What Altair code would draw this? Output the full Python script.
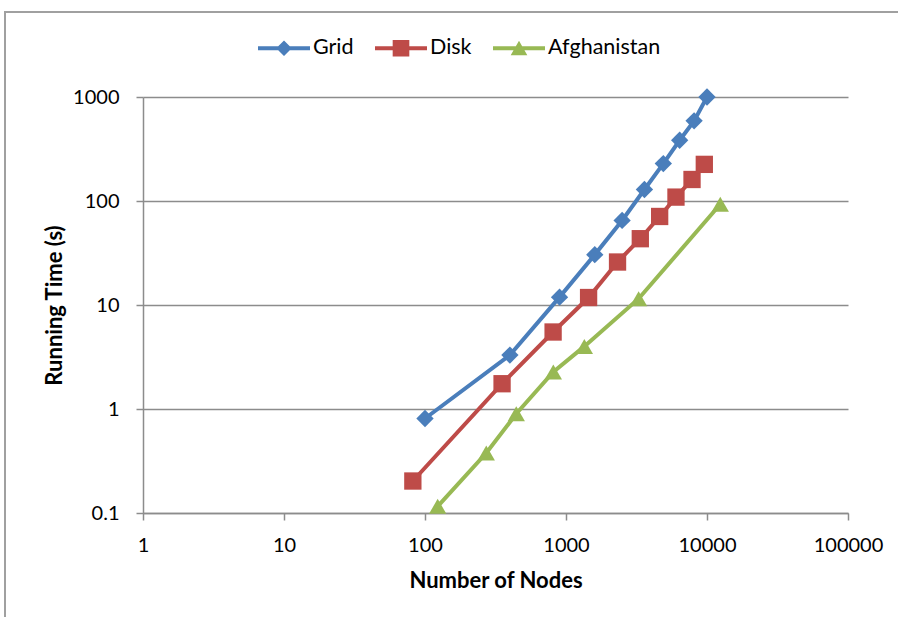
import altair as alt
import pandas as pd

# Series definitions
series_names = ["Grid", "Disk", "Afghanistan"]
series_colors = ["#4A7EBB", "#BE4B48", "#98B954"]
marker_shapes = ["diamond", "square", "triangle-up"]

grid_nodes = [100, 400, 900, 1600, 2500, 3600, 4900, 6400, 8100, 10000]
grid_time = [0.81, 3.3, 11.9, 30.5, 65, 129, 229, 384, 590, 1000]

disk_nodes = [82, 352, 810, 1446, 2320, 3365, 4615, 6025, 7830, 9570]
disk_time = [0.203, 1.75, 5.5, 11.8, 25.9, 43.4, 71, 109, 161, 225]

afg_nodes = [123, 272, 444, 813, 1349, 3273, 12420]
afg_time = [0.116, 0.377, 0.9, 2.27, 4.0, 11.5, 93]

x_ticks = [1, 10, 100, 1000, 10000, 100000]
y_ticks = [0.1, 1, 10, 100, 1000]

# Legend symbols: a short line segment with the series marker on top
legend_paths = [
    "M-1,-0.077L1,-0.077L1,0.077L-1,0.077Z M0,-0.3L0.3,0L0,0.3L-0.3,0Z",
    "M-1,-0.077L1,-0.077L1,0.077L-1,0.077Z M-0.32,-0.32L0.32,-0.32L0.32,0.32L-0.32,0.32Z",
    "M-1,-0.077L1,-0.077L1,0.077L-1,0.077Z M0,-0.29L0.32,0.27L-0.32,0.27Z",
]

rows = []
for name, nodes, times in [
    ("Grid", grid_nodes, grid_time),
    ("Disk", disk_nodes, disk_time),
    ("Afghanistan", afg_nodes, afg_time),
]:
    for i, (n, t) in enumerate(zip(nodes, times)):
        rows.append({"series": name, "nodes": n, "time": t, "order": i})
df = pd.DataFrame(rows)

FONT = "Lato"
GRAY = "#8c8c8c"

x_enc = alt.X(
    "nodes:Q",
    scale=alt.Scale(type="log", domain=[1, 100000], nice=False),
    axis=alt.Axis(
        values=x_ticks, format="d", grid=False,
        domainColor=GRAY, domainWidth=1.5, tickColor=GRAY, tickWidth=1.5, tickSize=7,
        labelFont=FONT, labelFontSize=20, labelColor="#000000", labelPadding=15,
        labelFlush=False, labelOverlap=False,
        title="Number of Nodes", titleFont=FONT, titleFontSize=22, titleFontWeight="bold",
        titleColor="#000000", titleX=352.5, titleY=67.5, titleAlign="center",
        titleBaseline="middle",
    ),
)
y_enc = alt.Y(
    "time:Q",
    scale=alt.Scale(type="log", domain=[0.1, 1000], nice=False),
    axis=alt.Axis(
        values=y_ticks, format="~g", grid=True, gridColor=GRAY, gridWidth=1.5,
        domainColor=GRAY, domainWidth=1.5, tickColor=GRAY, tickWidth=1.5, tickSize=7,
        labelFont=FONT, labelFontSize=20, labelColor="#000000", labelPadding=17,
        labelFlush=False, labelOverlap=False,
        title="Running Time (s)", titleFont=FONT, titleFontSize=22, titleFontWeight="bold",
        titleColor="#000000", titleX=-89, titleY=208, titleAngle=-90,
        titleAlign="center", titleBaseline="middle",
    ),
)

color_scale = alt.Scale(domain=series_names, range=series_colors)

base = alt.Chart(df).encode(x=x_enc, y=y_enc)

lines = base.mark_line(strokeWidth=4).encode(
    color=alt.Color("series:N", scale=color_scale, legend=None),
    order="order:Q",
)

points = base.mark_point(filled=True, opacity=1, size=300).encode(
    color=alt.Color("series:N", scale=color_scale, legend=None),
    shape=alt.Shape(
        "series:N",
        scale=alt.Scale(domain=series_names, range=marker_shapes),
        legend=None,
    ),
)

legend_def = alt.Legend(
    orient="none", legendX=115, legendY=-75, direction="horizontal", title=None,
    symbolSize=2704, symbolStrokeWidth=0, labelFont=FONT, labelFontSize=21.5,
    labelColor="#000000", labelOffset=3, columnPadding=21, padding=0,
)

legend_layer = base.transform_filter("false").mark_point(filled=True, opacity=1).encode(
    color=alt.Color("series:N", scale=color_scale, legend=legend_def),
    shape=alt.Shape(
        "series:N",
        scale=alt.Scale(domain=series_names, range=legend_paths),
        legend=legend_def,
    ),
)

# Outer chart-area frame
frame = alt.Chart(pd.DataFrame({"f": [0]})).mark_rect(
    fillOpacity=0, stroke="#a0a0a0", strokeWidth=2
).encode(
    x=alt.value(-138), x2=alt.value(770), y=alt.value(-85), y2=alt.value(540)
)

chart = (
    alt.layer(frame, lines, points, legend_layer)
    .resolve_scale(color="independent", shape="independent")
    .properties(
        width=705, height=416,
        autosize=alt.AutoSizeParams(type="none"),
        padding={"left": 143, "top": 97, "right": 50, "bottom": 104},
        background="white",
    )
    .configure_view(stroke=None)
)

chart.save("out.html", embed_options={"renderer": "svg", "actions": False})
